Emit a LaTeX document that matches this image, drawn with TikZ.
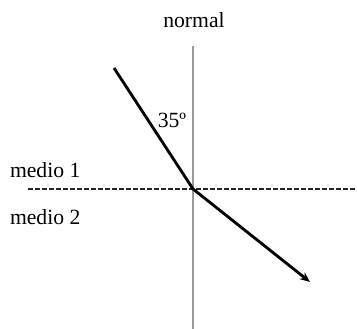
\documentclass[tikz,border=0pt]{standalone}
\usepackage{fontspec}
\setmainfont{Liberation Serif}
\usetikzlibrary{arrows.meta,positioning,calc}
\tikzset{
    lbl/.style={font=\fontsize{13}{15}\selectfont, inner sep=1pt},
    ray/.style={line width=1.7pt, black},
    arr/.style={-{Stealth[length=6pt,width=5pt]}, ray},
    normline/.style={line width=0.8pt, gray!80},
    border/.style={line width=1.2pt, dashed, dash pattern=on 3pt off 1.2pt, black!85},
}

\begin{document}
\begin{tikzpicture}[x=0.6pt, y=-0.6pt]
    \useasboundingbox (0,0) rectangle (357,329);
    % points
    \coordinate (o) at (193,189);
    \coordinate (ntop) at (193,46);
    \coordinate (nbot) at (193,329);
    \coordinate (bl) at (28,189);
    \coordinate (br) at (357,189);
    \coordinate (src) at (114,68);
    \coordinate (dst) at (310,282);
    % lines
    \draw[normline] (ntop) -- (nbot);
    \draw[border] (bl) -- (br);
    \draw[ray] (src) -- (o);
    \draw[arr] (o) -- (dst);
    % labels
    \node[lbl] (nlbl) at (194,20) {normal};
    \node[lbl] (ang) at (172,120) {35º};
    \node[lbl, anchor=west] (m1) at (8,170) {medio 1};
    \node[lbl, anchor=west] (m2) at (8,217) {medio 2};
\end{tikzpicture}
\end{document}
